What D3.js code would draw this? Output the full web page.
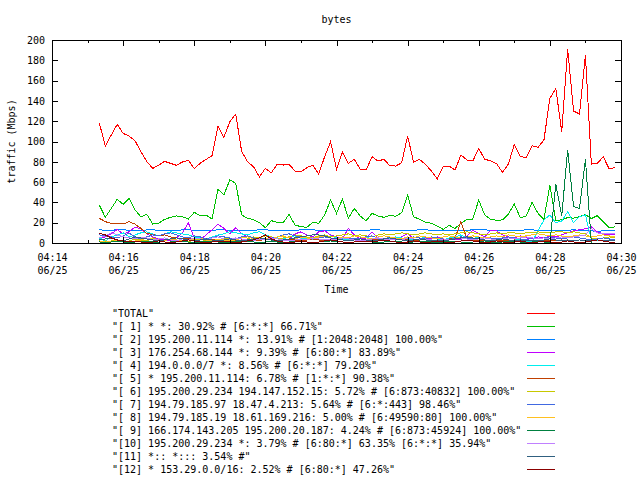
<!DOCTYPE html>
<html><head><meta charset="utf-8">
<script src="https://cdn.jsdelivr.net/npm/d3@7"></script>
<style>
body{margin:0;background:#fff}
svg{display:block}
text{font-family:"DejaVu Sans Mono","Liberation Mono",monospace;font-size:10px;fill:#000}
</style>
</head><body>
<svg id="chart" width="640" height="480"></svg>
<script>
// ---------- data ----------
const startTime = "2004-06-25T04:15:20Z";
const stepSeconds = 10;
const xDomain = ["2004-06-25T04:14:00Z", "2004-06-25T04:30:00Z"];
const yDomain = [0, 200];
const yTickValues = [0, 20, 40, 60, 80, 100, 120, 140, 160, 180, 200];
const chartTitle = "bytes";
const xTitle = "Time";
const yTitle = "traffic (Mbps)";

const seriesNames = [
  "\"TOTAL\"",
  "\"[ 1] * *: 30.92% # [6:*:*] 66.71%\"",
  "\"[ 2] 195.200.11.114 *: 13.91% # [1:2048:2048] 100.00%\"",
  "\"[ 3] 176.254.68.144 *: 9.39% # [6:80:*] 83.89%\"",
  "\"[ 4] 194.0.0.0/7 *: 8.56% # [6:*:*] 79.20%\"",
  "\"[ 5] * 195.200.11.114: 6.78% # [1:*:*] 90.38%\"",
  "\"[ 6] 195.200.29.234 194.147.152.15: 5.72% # [6:873:40832] 100.00%\"",
  "\"[ 7] 194.79.185.97 18.47.4.213: 5.64% # [6:*:443] 98.46%\"",
  "\"[ 8] 194.79.185.19 18.61.169.216: 5.00% # [6:49590:80] 100.00%\"",
  "\"[ 9] 166.174.143.205 195.200.20.187: 4.24% # [6:873:45924] 100.00%\"",
  "\"[10] 195.200.29.234 *: 3.79% # [6:80:*] 63.35% [6:*:*] 35.94%\"",
  "\"[11] *:: *::: 3.54% #\"",
  "\"[12] * 153.29.0.0/16: 2.52% # [6:80:*] 47.26%\""
];
const seriesColors = ["#ff0000","#00c000","#0080ff","#c000ff","#00eeee","#c04000",
  "#c8c800","#4169e1","#ffc020","#008040","#c080ff","#306080","#8b0000"];

const total = [117.9,95.6,106.4,116.9,108,105.4,100.8,90,80.1,73.5,
 76.8,80.4,78.5,76.5,79.8,81.4,73.5,78.5,82.4,86,
 115.2,104.1,119.5,127,90,80.1,75.1,65.2,73.5,69.2,
 77.5,76.8,77.5,70.9,70.3,74.2,76.8,68,85,99.8,
 72.6,89.3,78.5,82.4,72.9,71.9,85,80.8,82.4,76.2,
 75.8,79.1,105.4,79.8,82.4,77.5,70.9,63.1,75.1,75.8,
 71.9,86.7,81.8,80.8,93.2,82.4,81.1,78.2,69.6,77.8,
 97.2,85,84.4,95.9,94.2,101.5,142.5,152.3,109.7,190.8,
 130,127,185.2,77.8,78.4,85,73.1,74.4];
const s1 = [37.1,25.3,34.1,43,38.1,44,32.5,25.9,28.2,18.7,
 19.4,23.3,25.3,26.6,25.9,23.6,30.2,26.9,27.6,23.6,
 52.9,47.3,62.1,58.8,27.6,24.3,23,20,15.1,22,
 20.4,20,28.2,17.7,16.1,15.4,20.4,19.4,27.6,42.4,
 29.2,43.3,24.3,34.1,26.5,22,29.2,26.6,25.3,27.2,
 26.3,29.9,47.3,25.9,23.3,20.4,19.4,16.7,13.4,17.4,
 14.4,19.4,23.3,23.6,42.4,27.6,23.3,22.4,22.7,28.6,
 38.4,24.9,26.6,40,29.2,23.3,57,22,23,25,
 24.5,26,28,24,27,21,15,16];
const s2 = [13.5,12,12,13.5,13.5,12,12,12,13,13,
 12.5,12.5,12,12,13,13,12.5,12,12,12.5,
 13,13,12.5,12,12,12.5,12.5,13,13,12.5,
 12,12,12,12.5,13,13,13,12.5,12,12.5,
 12.5,12.5,12,12,12.5,12.5,13,13,12.5,12,
 12,12,12.5,12.5,13,13,12.5,12.5,12,12,
 12,12.5,12.5,13,13,13,12.5,12,12,12,
 12.5,12.5,13,13,12.5,12,12,12,12.5,12.5,
 13,12.5,12,12,11.5,12,12.5,12.5];
const s3 = [4,6,9,13.4,9,11,15.8,14,9,6,
 4,3,2,5,10,20,5,3,8,13,
 18.7,14.4,9,15,9,6,5,4,3,6,
 5,3,4,9,11,8,6,11,12,8,
 6,4,14.4,8,4,5,11,5,3,4,
 3,6,9.4,4,3,5,4,6,3,5,
 4,3,7,12.8,9,6,12.5,12,8,6,
 5,7,5,4,6,5,7,6,8,10,
 12,13,14,16,11,9,8,8];
const s4 = [5,2,6,8,10,6,8,10,11,9,
 7,9,11,10,9,8,6,5,4,6,
 8,9,11,10,9,8,10,11,8,6,
 5,4,6,7,5,4,3,5,6,7,
 5,4,3,4,5,6,4,3,5,4,
 6,5,4,3,4,6,5,4,3,5,
 6,8,5,4,6,5,4,3,4,5,
 4,3,2,1,12,22.7,27.6,20,21.7,30.9,
 20,25.9,27.6,3,2,2,2,3];
const s5 = [24.3,21,19.4,19.4,18.7,21,18.7,14.4,9.4,8.4,
 7,8,6,5,4,4,5,3,4,3,
 3,4,3,2,3,4,3,2,4,3,
 2,3,4,3,2,3,4,3,2,3,
 4,3,2,3,4,3,4,3,2,3,
 4,3,3,2,3,4,3,2,3,4,
 5,21,4,3,2,3,2,3,2,2,
 3,2,3,2,2,3,2,2,3,2,
 2,3,2,2,3,2,3,2];
const s6 = [2,1,2,3,1,2,4,3,2,5,
 3,2,4,3,2,1,3,4,2,3,
 2,4,5,3,2,4,6,5,7,6,
 4,5,6,8,7,6,5,7,8,6,
 7,8,9,7,8,7,6,8,9,8,
 9,10,9,8,9,10,9,8,9,8,
 9,10,11,10,9,8,9,10,9,10,
 10,9,10,10,11,10,10,11,11,10,
 11,10,9,5,4,5,6,5];
const s7 = [8,7,6,5,7,9.8,6,4,6,8,
 7,9,10,8,6,5,7,6,4,5,
 7,6,5,4,6,7,5,4,3,5,
 6,8,9,7,6,5,4,5,6,5,
 4,6,5,4,5,6,7,5,4,6,
 5,4,5,6,5,4,6,5,4,3,
 5,6,5,4,5,6,5,4,5,6,
 5,4,3,5,4,5,6,5,4,5,
 6,5,4,3,4,5,4,3];
const s8 = [1,2,1,3,2,1,2,3,5,4,
 3,2,4,3,2,3,4,5,3,2,
 4,3,2,3,5,6,4,3,5,4,
 6,7,5,4,6,5,4,6,7,5,
 4,6,5,7,6,5,4,6,7,6,
 5,4,6,5,7,6,5,4,6,7,
 6,5,6,7,6,5,6,7,6,8,
 7,6,7,8,9,8,7,8,7,6,
 7,8,7,6,7,8,7,6];
const s9 = [1,0,1,2,1,0,1,1,2,1,
 0,0,1,2,1,1,0,1,2,1,
 1,0,1,1,2,1,1,0,1,2,
 1,0,1,1,2,1,0,1,1,2,
 1,1,0,1,2,1,1,0,1,1,
 2,1,0,1,2,1,1,0,1,1,
 2,1,0,1,1,2,1,0,1,1,
 2,1,0,1,1,1,0,58,26.6,91.6,
 35.8,34.1,82.4,0,0,0,0,0];
const s10 = [5,7,10,8,6,5,4,6,5,3,
 4,5,3,2,4,3,5,4,3,5,
 6,4,3,5,4,3,2,4,3,5,
 4,3,2,3,4,3,5,4,3,4,
 3,5,4,3,2,3,4,5,4,3,
 4,3,5,4,3,4,3,2,4,3,
 4,5,4,3,4,5,4,3,4,5,
 4,5,6,5,4,5,4,5,6,5,
 6,7,8,14,10,9,9,9];
const s11 = [3,4,5,3,2,4,6,5,4,3,
 2,3,4,5,4,3,2,3,4,3,
 2,3,4,3,2,3,4,5,4,3,
 2,3,4,5,6,7,8,8,7,5,
 4,3,2,3,4,3,2,3,4,5,
 4,3,2,3,4,3,2,3,2,3,
 4,5,6,5,4,3,2,3,4,3,
 2,3,2,3,2,3,4,3,2,3,
 2,3,2,2,3,2,3,2];
const s12 = [9.5,8,5,3,2,1,2,1,0,1,
 2,1,0,1,2,3,2,1,0,1,
 2,1,1,0,1,2,3,5,8,4,
 2,1,0,1,2,1,0,1,2,3,
 2,1,0,1,2,1,1,2,3,2,
 1,0,1,2,1,0,1,2,1,0,
 1,2,3,2,1,0,1,2,1,0,
 1,2,1,0,1,2,1,0,1,2,
 1,0,1,2,3,2,1,0];
const seriesValues = [total,s1,s2,s3,s4,s5,s6,s7,s8,s9,s10,s11,s12];

// ---------- layout ----------
const L = 52, R = 621, T = 40, B = 243;
const svg = d3.select("#chart");
const x = d3.scaleUtc().domain(xDomain.map(d => new Date(d))).range([L, R]);
const y = d3.scaleLinear().domain(yDomain).range([B, T]);
const t0 = new Date(startTime).getTime();
const timeAt = i => new Date(t0 + i * stepSeconds * 1000);

// data lines (clip to plot)
svg.append("clipPath").attr("id","clip").append("rect")
  .attr("x", L).attr("y", T).attr("width", R - L).attr("height", B - T);
const line = d3.line().x((d, i) => x(timeAt(i))).y(d => y(d));
const g = svg.append("g").attr("clip-path","url(#clip)");
seriesValues.forEach((vals, si) => {
  g.append("path").datum(vals)
    .attr("d", line)
    .attr("fill","none")
    .attr("stroke", seriesColors[si])
    .attr("stroke-width", 1)
    .attr("shape-rendering","crispEdges");
});

// axes
const majorTicks = d3.utcMinute.every(2).range(x.domain()[0], new Date(x.domain()[1].getTime() + 1));
const minorTicks = d3.utcMinute.every(1).range(x.domain()[0], new Date(x.domain()[1].getTime() + 1));
function styleAxis(sel) {
  sel.select(".domain").remove();
  sel.selectAll("line").attr("stroke","#000").attr("shape-rendering","crispEdges");
}
svg.append("g").attr("transform",`translate(0,${B})`)
  .call(d3.axisBottom(x).tickValues(minorTicks).tickSize(-3).tickFormat(""))
  .call(styleAxis);
svg.append("g").attr("transform",`translate(0,${T})`)
  .call(d3.axisTop(x).tickValues(minorTicks).tickSize(-3).tickFormat(""))
  .call(styleAxis);
svg.append("g").attr("transform",`translate(0,${T})`)
  .call(d3.axisTop(x).tickValues(majorTicks).tickSize(-6).tickFormat(""))
  .call(styleAxis);
const fmtTime = d3.utcFormat("%H:%M"), fmtDate = d3.utcFormat("%m/%d");
const xb = svg.append("g").attr("transform",`translate(0,${B})`)
  .call(d3.axisBottom(x).tickValues(majorTicks).tickSize(-6).tickFormat(""))
  .call(styleAxis);
xb.selectAll(".tick text").each(function(d) {
  const t = d3.select(this).attr("y", null).attr("dy", null).attr("fill","#000");
  t.append("tspan").attr("x", 0).attr("y", 18).text(fmtTime(d));
  t.append("tspan").attr("x", 0).attr("y", 31).text(fmtDate(d));
});
const yl = svg.append("g").attr("transform",`translate(${L},0)`)
  .call(d3.axisLeft(y).tickValues(yTickValues).tickSize(-6).tickPadding(7))
  .call(styleAxis);
yl.selectAll("text").attr("fill","#000");
svg.append("g").attr("transform",`translate(${R},0)`)
  .call(d3.axisRight(y).tickValues(yTickValues).tickSize(-6).tickFormat(""))
  .call(styleAxis);
svg.selectAll("g").attr("font-family", null).attr("font-size", null);

// border
svg.append("rect").attr("x", L + 0.5).attr("y", T + 0.5)
  .attr("width", R - L).attr("height", B - T)
  .attr("fill","none").attr("stroke","#000").attr("stroke-width",1);

// titles
svg.append("text").attr("x", (L + R) / 2).attr("y", 23).attr("text-anchor","middle").text(chartTitle);
svg.append("text").attr("x", (L + R) / 2).attr("y", 293).attr("text-anchor","middle").text(xTitle);
svg.append("text").attr("transform",`translate(15,${(T + B) / 2}) rotate(-90)`)
  .attr("text-anchor","middle").text(yTitle);

// legend
const leg = svg.append("g");
seriesNames.forEach((name, i) => {
  const cy = 313 + 13 * i;
  leg.append("text").attr("x", 112).attr("y", cy + 3.5)
    .style("white-space","pre").text(name);
  leg.append("line").attr("x1", 527).attr("x2", 555).attr("y1", cy + 0.5).attr("y2", cy + 0.5)
    .attr("stroke", seriesColors[i]).attr("stroke-width", 1)
    .attr("shape-rendering","crispEdges");
});
</script>
</body></html>
